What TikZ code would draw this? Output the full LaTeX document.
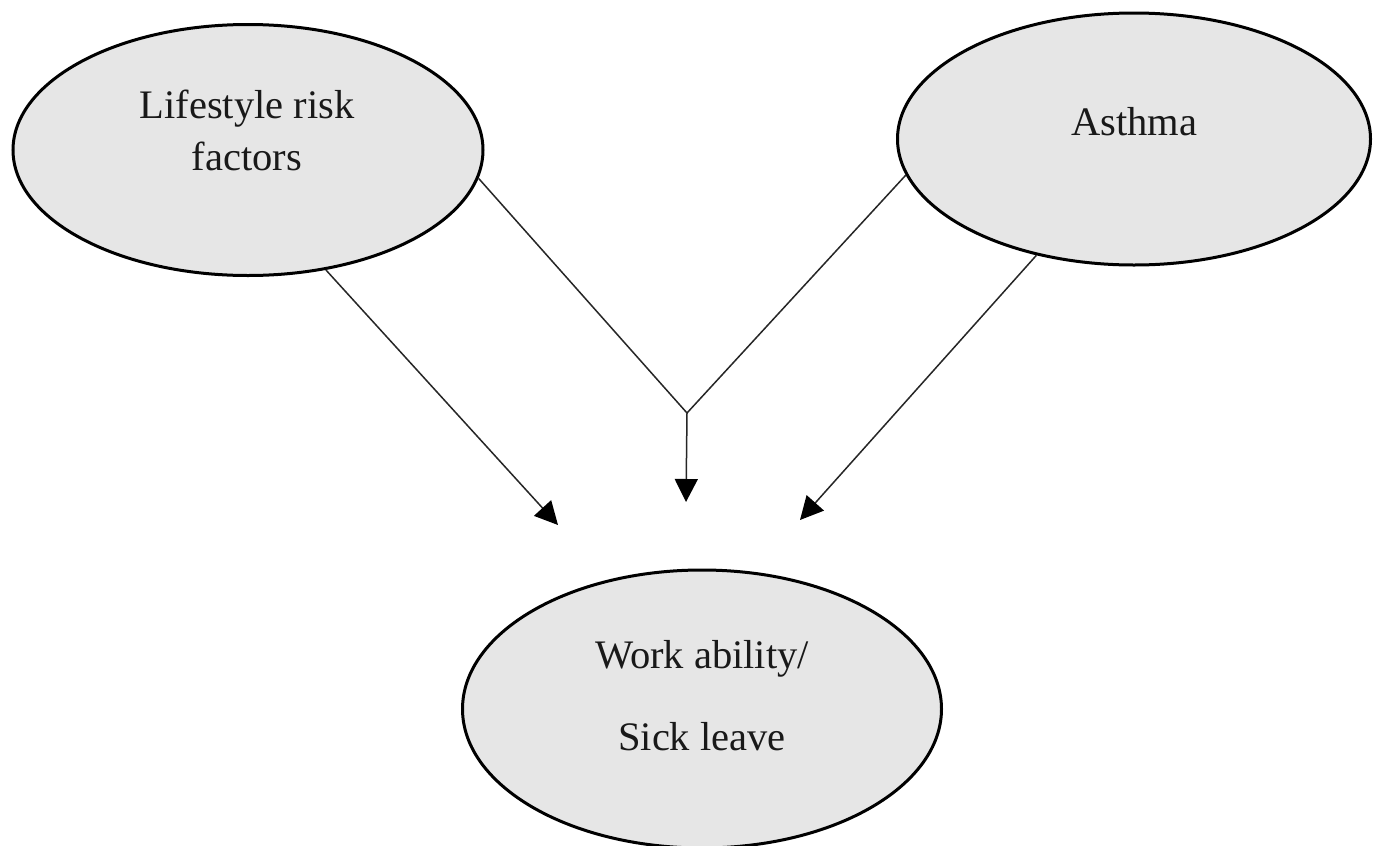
\documentclass[tikz,border=0pt]{standalone}
\usepackage{fontspec}
\setmainfont{Liberation Serif}
\usetikzlibrary{arrows.meta,shapes.geometric}
\definecolor{ellfill}{RGB}{230,230,230}
\begin{document}
\begin{tikzpicture}[x=1pt,y=-1pt,
  oval/.style={ellipse, draw=black, line width=3pt, fill=ellfill, inner sep=0pt},
  lbl/.style={anchor=base, font=\fontsize{40.5}{48}\selectfont, inner sep=0pt, text=black!90},
  link/.style={line width=1.5pt, draw=black!85},
  arr/.style={link, -{Triangle[width=23pt,length=23pt,fill=black,color=black]}}]
\useasboundingbox[fill=white] (0,0) rectangle (1377,846);
\node[oval, minimum width=470pt, minimum height=251pt] (life) at (248,150) {};
\node[oval, minimum width=473pt, minimum height=252pt] (ast) at (1134,139) {};
\node[oval, minimum width=479pt, minimum height=278pt] (work) at (702,709) {};
\node[lbl] (lifeA) at (247,118) {Lifestyle risk};
\node[lbl] (lifeB) at (247,170) {factors};
\node[lbl] (astT) at (1134,135) {Asthma};
\node[lbl] (workA) at (702,668) {Work ability/};
\node[lbl] (workB) at (702,750) {Sick leave};
\coordinate (j) at (687,413);
\coordinate (t1) at (558,525);
\coordinate (t2) at (686,502);
\coordinate (t3) at (800,520);
\draw[arr] (life.-57) -- (t1);
\draw[link] (life.-7.4) -- (j);
\draw[link] (ast.189.5) -- (j);
\draw[arr] (j) -- (t2);
\draw[arr] (ast.-130.5) -- (t3);
\end{tikzpicture}
\end{document}
